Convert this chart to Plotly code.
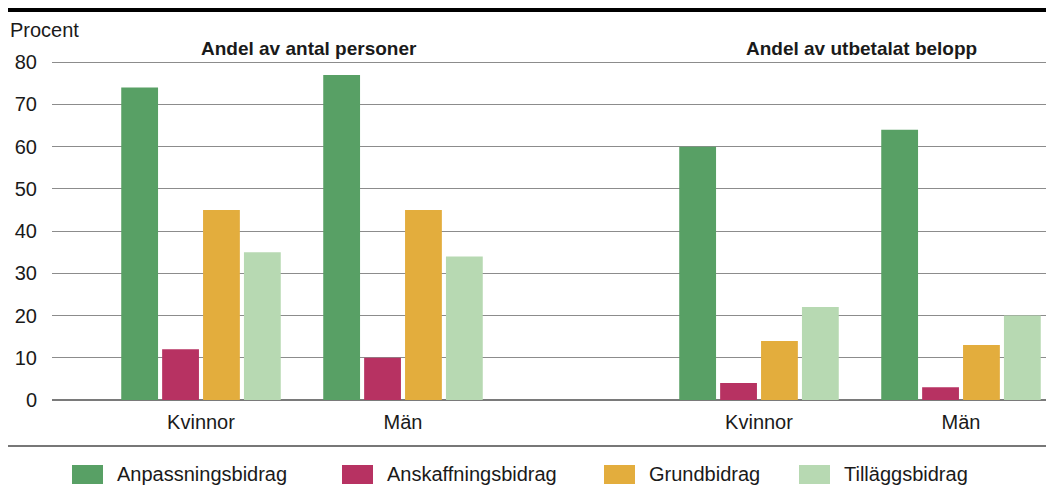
import plotly.graph_objects as go
from plotly.subplots import make_subplots

groups = ["Kvinnor", "Män"]
panels = ["Andel av antal personer", "Andel av utbetalat belopp"]
series = ["Anpassningsbidrag", "Anskaffningsbidrag", "Grundbidrag", "Tilläggsbidrag"]
colors = ["#58a065", "#b73262", "#e3ad3d", "#b7d9b2"]

# values per panel and series -> [Kvinnor, Män]
personer = {
    "Anpassningsbidrag": [74, 77],
    "Anskaffningsbidrag": [12, 10],
    "Grundbidrag": [45, 45],
    "Tilläggsbidrag": [35, 34],
}
belopp = {
    "Anpassningsbidrag": [60, 64],
    "Anskaffningsbidrag": [4, 3],
    "Grundbidrag": [14, 13],
    "Tilläggsbidrag": [22, 20],
}
yticks = [0, 10, 20, 30, 40, 50, 60, 70, 80]

# figure sits at (8, 8) in the page because of the body margin
OFF = 8
W, H = 1046, 486
L, R, T, B = 44, 0, 50, 94
PW = W - L - R
PH = H - T - B
split_page = 581

def px(x):
    return (x - OFF - L) / PW

def py(y):
    return (H - B - (y - OFF)) / PH

fig = make_subplots(rows=1, cols=2, shared_yaxes=True, horizontal_spacing=0,
                    column_widths=[split_page - OFF - L, W - R - (split_page - OFF)])

for col, data in [(1, personer), (2, belopp)]:
    for s, c in zip(series, colors):
        fig.add_trace(go.Bar(x=groups, y=data[s], name=s, marker_color=c,
                             marker_line_width=0, showlegend=False,
                             hoverinfo="x+y+name"), row=1, col=col)

font_fam = "Liberation Sans, Arial, Helvetica, sans-serif"
txt = "#1a1a1a"

fig.update_layout(
    width=W, height=H,
    margin=dict(l=L, r=R, t=T, b=B, pad=0),
    paper_bgcolor="white", plot_bgcolor="white",
    barmode="group", bargap=0.19, bargroupgap=0.1,
    font=dict(family=font_fam, size=20, color=txt),
    showlegend=False,
)

unit = 202.0
fig.update_xaxes(row=1, col=1, range=[-(201 - 52) / unit, 1 + (split_page - 403) / unit])
fig.update_xaxes(row=1, col=2, range=[-(759 - split_page) / unit, 1 + (1054 - 961) / unit])
fig.update_xaxes(showgrid=False, showline=False, zeroline=False, ticks="",
                 tickfont=dict(size=20, color=txt), ticklabelstandoff=8)
fig.update_yaxes(range=[0, 81], tickvals=yticks, showgrid=True, gridcolor="#8c8c8c",
                 gridwidth=1, zeroline=True, zerolinecolor="#7a7a7a", zerolinewidth=2,
                 showline=False, ticks="", tickfont=dict(size=20, color=txt))
fig.update_yaxes(row=1, col=1, ticklabelstandoff=14)

# panel titles
fig.add_annotation(x=px(309), y=py(48), xref="paper", yref="paper", text=panels[0],
                   showarrow=False, font=dict(size=19, color=txt, weight="bold"),
                   xanchor="center", yanchor="middle")
fig.add_annotation(x=px(861), y=py(48), xref="paper", yref="paper", text=panels[1],
                   showarrow=False, font=dict(size=19, color=txt, weight="bold"),
                   xanchor="center", yanchor="middle")
# axis unit label
fig.add_annotation(x=px(10), y=py(30), xref="paper", yref="paper", text="Procent",
                   showarrow=False, font=dict(size=20, color=txt),
                   xanchor="left", yanchor="middle", xshift=-2)

# rules
fig.add_shape(type="line", xref="paper", yref="paper", x0=px(8), x1=px(1054),
              y0=py(9.5), y1=py(9.5), line=dict(color="black", width=5))
fig.add_shape(type="line", xref="paper", yref="paper", x0=px(8), x1=px(1054),
              y0=py(446), y1=py(446), line=dict(color="#777777", width=2))

# custom legend
leg_x = [72, 342, 604, 799]
for s, c, x0 in zip(series, colors, leg_x):
    fig.add_shape(type="rect", xref="paper", yref="paper", x0=px(x0), x1=px(x0 + 31),
                  y0=py(484), y1=py(465), fillcolor=c, line=dict(width=0))
    fig.add_annotation(x=px(x0 + 43), y=py(474), xref="paper", yref="paper", text=s,
                       showarrow=False, font=dict(size=20, color=txt),
                       xanchor="left", yanchor="middle")

fig.write_html("out.html")
